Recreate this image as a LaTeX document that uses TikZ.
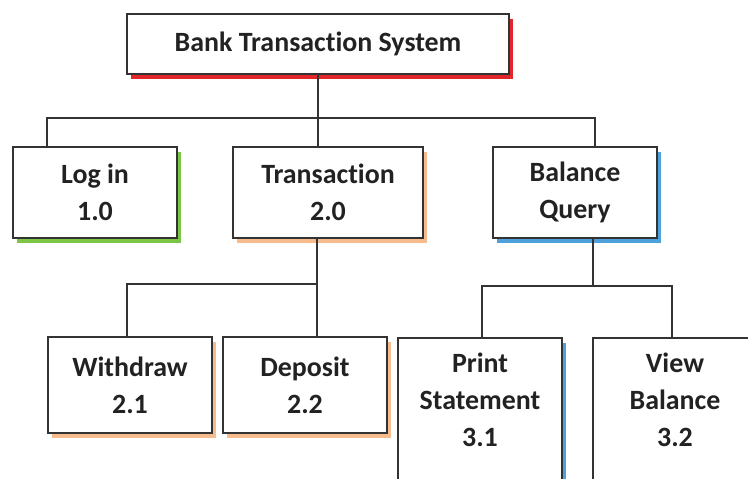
\documentclass[tikz,border=0pt]{standalone}
\usepackage{fontspec}
\setmainfont{Carlito}[Ligatures=NoCommon]
\usepackage{tikz}
\usetikzlibrary{positioning,shadows,calc}
\definecolor{boxline}{HTML}{333333}
\definecolor{boxtextcol}{HTML}{222222}
\definecolor{shadowred}{HTML}{E3262B}
\definecolor{shadowgreen}{HTML}{7DC545}
\definecolor{shadoworange}{HTML}{F6BC8E}
\definecolor{shadowblue}{HTML}{4DA2DC}
\tikzset{
  box/.style={draw=boxline,line width=1.8bp,fill=white,align=center,inner sep=0pt,text=boxtextcol,font=\fontsize{28}{37}\selectfont\bfseries},
  boxred/.style={box,drop shadow={shadow xshift=4bp,shadow yshift=-5bp,fill=shadowred,opacity=1}},
  boxgreen/.style={box,drop shadow={shadow xshift=4bp,shadow yshift=-5bp,fill=shadowgreen,opacity=1}},
  boxorange/.style={box,drop shadow={shadow xshift=4bp,shadow yshift=-5bp,fill=shadoworange,opacity=1}},
  boxblue/.style={box,drop shadow={shadow xshift=4bp,shadow yshift=-5bp,fill=shadowblue,opacity=1}},
  boxtext/.style={inner sep=0pt,align=center,text=boxtextcol,font=\fontsize{28}{37}\selectfont\bfseries},
  link/.style={draw=boxline,line width=1.8bp}
}
\begin{document}
\begin{tikzpicture}[x=1bp,y=1bp]
  \useasboundingbox (0,0) rectangle (748,479);
  \clip (0,0) rectangle (748,479);
  \node[boxred,minimum width=382bp,minimum height=60bp] (system) at (318,435) {Bank Transaction System};
  \node[boxgreen,minimum width=164bp,minimum height=91bp] (login) at (95,286.5) {Log in\\1.0};
  \node[boxorange,minimum width=190bp,minimum height=91bp] (transaction) at (328,286.5) {Transaction\\2.0};
  \node[boxblue,minimum width=164bp,minimum height=91bp] (balance) at (575,286.5) {Balance\\Query};
  \node[boxorange,minimum width=164bp,minimum height=96bp] (withdraw) at (130,94) {Withdraw\\2.1};
  \node[boxorange,minimum width=164bp,minimum height=96bp] (deposit) at (305,94) {Deposit\\2.2};
  \node[boxblue,minimum width=164bp,minimum height=180bp,anchor=north] (print) at (480,142) {};
  \node[boxtext,anchor=north] (printtext) at ([yshift=-16bp]print.north) {Print\\Statement\\3.1};
  \node[box,minimum width=164bp,minimum height=180bp,anchor=north] (view) at (675,142) {};
  \node[boxtext,anchor=north] (viewtext) at ([yshift=-16bp]view.north) {View\\Balance\\3.2};
  \coordinate (bus) at (318,361);
  \coordinate (tbus) at (317,195);
  \coordinate (bbus) at (593,193);
  \draw[link] (system.south) -- (bus);
  \draw[link] ([xshift=-48bp]login.north) |- (bus) -| ([xshift=20bp]balance.north);
  \draw[link] (bus) -- ([xshift=-10bp]transaction.north);
  \draw[link] ([xshift=-11bp]transaction.south) -- ([xshift=12bp]deposit.north);
  \draw[link] (tbus) -| ([xshift=-3bp]withdraw.north);
  \draw[link] ([xshift=18bp]balance.south) -- (bbus);
  \draw[link] ([xshift=2bp]print.north) |- (bbus) -| ([xshift=-3bp]view.north);
\end{tikzpicture}
\end{document}
